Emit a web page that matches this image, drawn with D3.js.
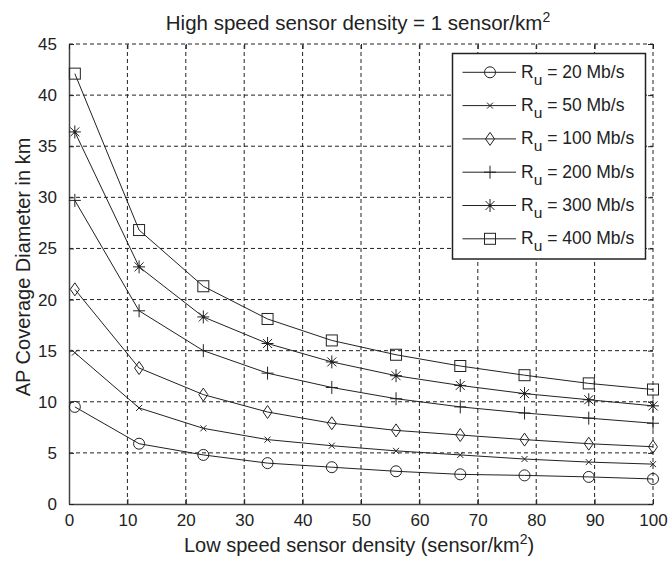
<!DOCTYPE html>
<html>
<head>
<meta charset="utf-8">
<script src="https://cdn.jsdelivr.net/npm/d3@7"></script>
<style>
  html, body { margin: 0; padding: 0; background: #fff; }
  text { font-family: "Liberation Sans", Arial, sans-serif; fill: #222; }
</style>
</head>
<body>
<svg id="chart" width="668" height="569"></svg>
<script>
const xValues = [1, 12, 23, 34, 45, 56, 67, 78, 89, 100];
const rate20  = [9.5, 5.9, 4.8, 4.0, 3.6, 3.2, 2.9, 2.8, 2.65, 2.45];
const rate50  = [14.8, 9.4, 7.4, 6.3, 5.7, 5.2, 4.8, 4.4, 4.1, 3.9];
const rate100 = [21.0, 13.3, 10.7, 9.0, 7.9, 7.2, 6.75, 6.3, 5.9, 5.6];
const rate200 = [29.7, 18.9, 15.0, 12.8, 11.4, 10.3, 9.5, 8.9, 8.4, 7.9];
const rate300 = [36.4, 23.2, 18.3, 15.7, 13.9, 12.55, 11.6, 10.8, 10.2, 9.6];
const rate400 = [42.1, 26.8, 21.3, 18.1, 16.0, 14.6, 13.5, 12.6, 11.8, 11.2];
const seriesNames = ["20", "50", "100", "200", "300", "400"];
const seriesMarkers = ["circle", "x", "diamond", "plus", "star", "square"];
const xTicks = [0, 10, 20, 30, 40, 50, 60, 70, 80, 90, 100];
const yTicks = [0, 5, 10, 15, 20, 25, 30, 35, 40, 45];

const series = [rate20, rate50, rate100, rate200, rate300, rate400].map((vals, i) => ({
  name: seriesNames[i], marker: seriesMarkers[i],
  points: vals.map((v, j) => [xValues[j], v])
}));

const svg = d3.select("#chart");
const L = 69, R = 653, T = 44, B = 504;
const x = d3.scaleLinear().domain([0, 100]).range([L, R]);
const y = d3.scaleLinear().domain([0, 45]).range([B, T]);
const ink = "#222";

// grid
const grid = svg.append("g");
grid.selectAll(".gx").data(xTicks.slice(1)).join("line")
  .attr("x1", d => x(d)).attr("x2", d => x(d)).attr("y1", B).attr("y2", T)
  .attr("stroke", ink).attr("stroke-width", 1).attr("stroke-dasharray", "4,3");
grid.selectAll(".gy").data(yTicks.slice(1)).join("line")
  .attr("y1", d => y(d)).attr("y2", d => y(d)).attr("x1", L).attr("x2", R)
  .attr("stroke", ink).attr("stroke-width", 1).attr("stroke-dasharray", "4,3");

// axes
const xAxis = d3.axisBottom(x).tickValues(xTicks).tickSizeInner(-5).tickSizeOuter(0).tickPadding(10);
const yAxis = d3.axisLeft(y).tickValues(yTicks).tickSizeInner(-5).tickSizeOuter(0).tickPadding(12);
const gx = svg.append("g").attr("transform", `translate(0,${B})`).call(xAxis);
const gy = svg.append("g").attr("transform", `translate(${L},0)`).call(yAxis);
[gx, gy].forEach(g => {
  g.select(".domain").attr("stroke", "#444").attr("stroke-width", 1.5);
  g.selectAll(".tick line").attr("stroke", ink);
  g.selectAll(".tick text").attr("font-size", 17).attr("fill", "#333")
    .attr("font-family", "'Liberation Sans', Arial, sans-serif");
});
// top and right inward ticks
const gTop = svg.append("g").attr("transform", `translate(0,${T})`)
  .call(d3.axisTop(x).tickValues(xTicks).tickSizeInner(-5).tickSizeOuter(0).tickFormat(""));
const gRight = svg.append("g").attr("transform", `translate(${R},0)`)
  .call(d3.axisRight(y).tickValues(yTicks).tickSizeInner(-5).tickSizeOuter(0).tickFormat(""));
[gTop, gRight].forEach(g => {
  g.select(".domain").remove();
  g.selectAll(".tick line").attr("stroke", ink);
});

// lines
const line = d3.line().x(d => x(d[0])).y(d => y(d[1]));
svg.append("g").selectAll("path").data(series).join("path")
  .attr("d", d => line(d.points)).attr("fill", "none")
  .attr("stroke", ink).attr("stroke-width", 1);

function drawMarker(g, type) {
  const apply = sel => sel.attr("stroke", ink).attr("stroke-width", 1).attr("fill", "none");
  if (type === "circle") {
    apply(g.append("circle").attr("r", 5.5));
  } else if (type === "square") {
    apply(g.append("rect").attr("x", -5.5).attr("y", -5.5).attr("width", 11).attr("height", 11));
  } else if (type === "diamond") {
    apply(g.append("path").attr("d", "M0,-6.5L4.5,0L0,6.5L-4.5,0Z"));
  } else if (type === "plus") {
    apply(g.append("path").attr("d", "M-6,0H6M0,-6.5V6.5"));
  } else if (type === "x") {
    apply(g.append("path").attr("d", "M-3,-3L3,3M-3,3L3,-3"));
  } else if (type === "star") {
    apply(g.append("path").attr("d", "M-6,0H6M0,-6.5V6.5M-4.5,-4.5L4.5,4.5M-4.5,4.5L4.5,-4.5"));
    g.append("circle").attr("r", 1.6).attr("fill", ink);
  }
}

const mg = svg.append("g");
series.forEach(sr => {
  sr.points.forEach(p => {
    const g = mg.append("g").attr("transform", `translate(${x(p[0])},${y(p[1])})`);
    drawMarker(g, sr.marker);
  });
});

// legend
const lg = svg.append("g");
lg.append("rect").attr("x", 452.5).attr("y", 53.5).attr("width", 193).attr("height", 205.5)
  .attr("fill", "#fff").attr("stroke", ink).attr("stroke-width", 1.5);
series.forEach((sr, i) => {
  const cy = 72.3 + i * 33.3;
  lg.append("line").attr("x1", 462.5).attr("x2", 516).attr("y1", cy).attr("y2", cy)
    .attr("stroke", ink).attr("stroke-width", 1);
  drawMarker(lg.append("g").attr("transform", `translate(490,${cy})`), sr.marker);
  const t = lg.append("text").attr("x", 521).attr("y", cy + 5.5).attr("font-size", 17.5);
  t.append("tspan").text("R");
  t.append("tspan").attr("dy", 7).attr("font-size", 15.5).text("u");
  t.append("tspan").attr("dy", -7).text(` = ${sr.name} Mb/s`);
});

// title
const title = svg.append("text").attr("x", 358).attr("y", 30).attr("text-anchor", "middle").attr("font-size", 20.5);
title.append("tspan").text("High speed sensor density = 1 sensor/km");
title.append("tspan").attr("dy", -8).attr("font-size", 14).text("2");

// x label
const xl = svg.append("text").attr("x", 359).attr("y", 552).attr("text-anchor", "middle").attr("font-size", 20);
xl.append("tspan").text("Low speed sensor density (sensor/km");
xl.append("tspan").attr("dy", -8).attr("font-size", 14).text("2");
xl.append("tspan").attr("dy", 8).text(")");

// y label
svg.append("text").attr("transform", `translate(30,267) rotate(-90)`)
  .attr("text-anchor", "middle").attr("font-size", 20).text("AP Coverage Diameter in km");
</script>
</body>
</html>
